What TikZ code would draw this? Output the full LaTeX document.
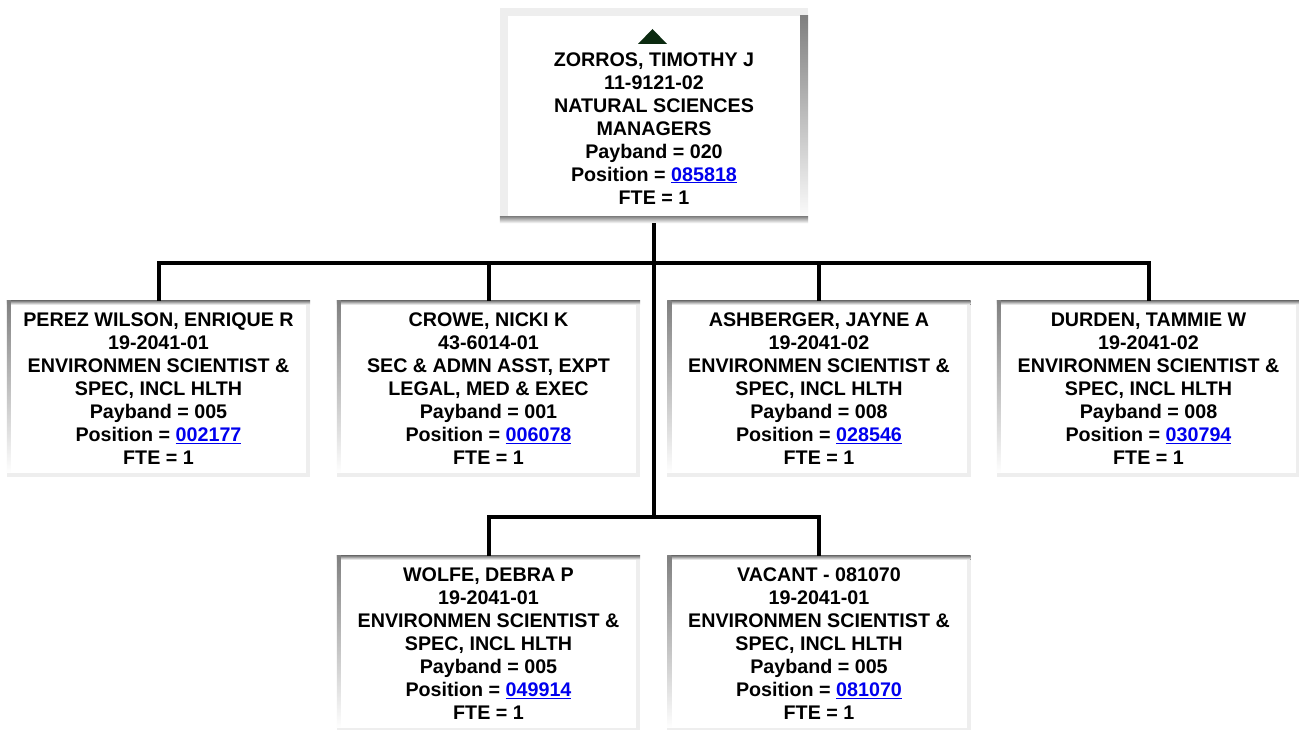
\documentclass[tikz,border=0pt]{standalone}
\usepackage{fontspec}
\setmainfont{Liberation Sans}
\usepackage{xcolor}
\definecolor{shade}{HTML}{A0A0A0}
\definecolor{pale}{HTML}{EEEEEE}
\definecolor{linkblue}{HTML}{0000EE}
\definecolor{upgreen}{HTML}{0B2A10}
\newcommand{\FC}{\fontsize{19.7}{23}\selectfont\bfseries}
\newcommand{\posno}[1]{{\color{linkblue}\underline{#1}}}
% sunken frame of a child card
\newcommand{\insetframe}[1]{%
  \fill[shade] (#1.north west) rectangle ([yshift=-4pt]#1.north east);
  \fill[shade] (#1.north west) rectangle ([xshift=4pt,yshift=4pt]#1.south west);
  \fill[pale] ([xshift=-4pt,yshift=-4pt]#1.north east) rectangle (#1.south east);
  \fill[pale] ([yshift=4pt]#1.south west) rectangle (#1.south east);}

\begin{document}
\begin{tikzpicture}[x=1pt,y=-1pt]
\tikzstyle{card}=[draw=none,fill=white,inner sep=0pt,minimum width=303pt,minimum height=176pt,align=center,font=\FC]
\tikzstyle{boss}=[card,minimum width=308pt,minimum height=215pt]
\tikzstyle{line}=[black,line width=4pt]

\useasboundingbox[fill=white] (0,0) rectangle (1299,730);

% top of the chart
\node[boss] (zorros) at (654,115.5) {\strut\\ZORROS, TIMOTHY J\\11-9121-02\\NATURAL SCIENCES\\MANAGERS\\Payband = 020\\Position = \posno{085818}\\FTE = 1};
\fill[pale] (zorros.north west) rectangle ([yshift=-8pt]zorros.north east);
\fill[pale] ([yshift=-8pt]zorros.north west) rectangle ([xshift=8pt,yshift=7pt]zorros.south west);
\fill[shade] ([xshift=-8pt,yshift=-8pt]zorros.north east) rectangle (zorros.south east);
\fill[shade] ([yshift=7pt]zorros.south west) rectangle (zorros.south east);
\fill[upgreen] (638,44) -- (652.5,29) -- (667,44) -- cycle;

% first row
\node[card] (perez) at (158.5,389) {PEREZ WILSON, ENRIQUE R\\19-2041-01\\ENVIRONMEN SCIENTIST \&\\SPEC, INCL HLTH\\Payband = 005\\Position = \posno{002177}\\FTE = 1};
\node[card] (crowe) at (488.5,389) {CROWE, NICKI K\\43-6014-01\\SEC \& ADMN ASST, EXPT\\LEGAL, MED \& EXEC\\Payband = 001\\Position = \posno{006078}\\FTE = 1};
\node[card] (ashberger) at (819,389) {ASHBERGER, JAYNE A\\19-2041-02\\ENVIRONMEN SCIENTIST \&\\SPEC, INCL HLTH\\Payband = 008\\Position = \posno{028546}\\FTE = 1};
\node[card] (durden) at (1148.5,389) {DURDEN, TAMMIE W\\19-2041-02\\ENVIRONMEN SCIENTIST \&\\SPEC, INCL HLTH\\Payband = 008\\Position = \posno{030794}\\FTE = 1};

% second row
\node[card] (wolfe) at (488.5,644) {WOLFE, DEBRA P\\19-2041-01\\ENVIRONMEN SCIENTIST \&\\SPEC, INCL HLTH\\Payband = 005\\Position = \posno{049914}\\FTE = 1};
\node[card] (vacant) at (819,644) {VACANT - 081070\\19-2041-01\\ENVIRONMEN SCIENTIST \&\\SPEC, INCL HLTH\\Payband = 005\\Position = \posno{081070}\\FTE = 1};

\insetframe{perez}
\insetframe{crowe}
\insetframe{ashberger}
\insetframe{durden}
\insetframe{wolfe}
\insetframe{vacant}

% connectors
\coordinate (bus) at (654,263.5);
\coordinate (lowbus) at (654,516.5);
\draw[line] (zorros.south) -- (lowbus);
\draw[line] (perez.north) |- (bus) -| (durden.north);
\draw[line] (crowe.north) -- (crowe.north |- bus);
\draw[line] (ashberger.north) -- (ashberger.north |- bus);
\draw[line] (wolfe.north) |- (lowbus) -| (vacant.north);
\end{tikzpicture}
\end{document}
